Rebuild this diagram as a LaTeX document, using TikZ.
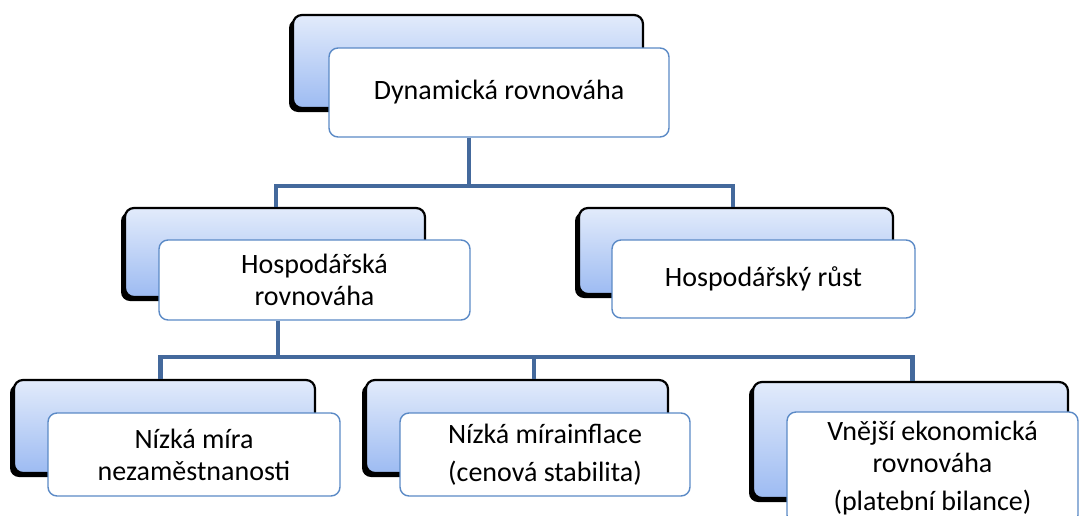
\documentclass[tikz,border=0pt]{standalone}
\usepackage{fontspec}
\setmainfont{Carlito}
\usetikzlibrary{shadows,calc}
\definecolor{gradtop}{HTML}{E2EBFB}
\definecolor{gradbot}{HTML}{9DBBF2}
\definecolor{frontblue}{HTML}{5B8AC6}
\definecolor{connblue}{HTML}{44699C}
\tikzset{
  backbox/.style={rounded corners=9pt, draw=black, line width=2.2pt,
    top color=gradtop, bottom color=gradbot,
    drop shadow={shadow xshift=-4pt, shadow yshift=-4pt, fill=black, opacity=1},
    inner sep=0pt},
  frontbox/.style={rounded corners=9pt, draw=frontblue, line width=1.4pt, fill=white,
    align=center, inner sep=0pt, font=\fontsize{28}{32}\selectfont},
  conn/.style={draw=connblue, line width=4.5pt}
}
\begin{document}
\begin{tikzpicture}[x=1pt,y=-1pt]
\useasboundingbox (0,0) rectangle (1079,515);
\clip (0,0) rectangle (1079,515);
% back boxes
\node[backbox, minimum width=350pt, minimum height=93pt] (b1) at (468,61.5) {};
\node[backbox, minimum width=300pt, minimum height=89pt] (b2) at (275,252.5) {};
\node[backbox, minimum width=314pt, minimum height=86pt] (b3) at (736,251) {};
\node[backbox, minimum width=301pt, minimum height=93pt] (b4) at (164.5,426.5) {};
\node[backbox, minimum width=302pt, minimum height=93pt] (b5) at (517,426.5) {};
\node[backbox, minimum width=315pt, minimum height=116pt] (b6) at (910.5,440) {};
% front boxes
\node[frontbox, minimum width=340pt, minimum height=89pt] (f1) at (499,92.5) {\raisebox{-3pt}{Dynamická rovnováha}};
\node[frontbox, minimum width=311pt, minimum height=80pt] (f2) at (314.5,280) {Hospodářská\\rovnováha};
\node[frontbox, minimum width=303pt, minimum height=78pt] (f3) at (763.5,279) {Hospodářský růst};
\node[frontbox, minimum width=292pt, minimum height=83pt] (f4) at (194,454.5) {Nízká míra\\nezaměstnanosti};
\node[frontbox, minimum width=290pt, minimum height=83pt] (f5) at (545,454.5) {Nízká mírainflace\\[6pt](cenová stabilita)};
\node[frontbox, minimum width=291pt, minimum height=112pt] (f6) at (932.5,468) {Vnější ekonomická\\rovnováha\\[6pt](platební bilance)};
% connectors
\coordinate (j1) at (469,186);
\draw[conn] (f1.south -| j1) -- (j1);
\draw[conn] ([xshift=1pt]b2.north) |- (j1) -| ([xshift=-3pt]b3.north);
\coordinate (j2) at (278,357);
\draw[conn] (f2.south -| j2) -- (j2);
\draw[conn] ([xshift=-4pt]b4.north) |- (j2) -| ([xshift=2pt]b6.north);
\draw[conn] ([xshift=17pt]b5.north) -- ([xshift=17pt]b5.north |- j2);
\end{tikzpicture}
\end{document}
